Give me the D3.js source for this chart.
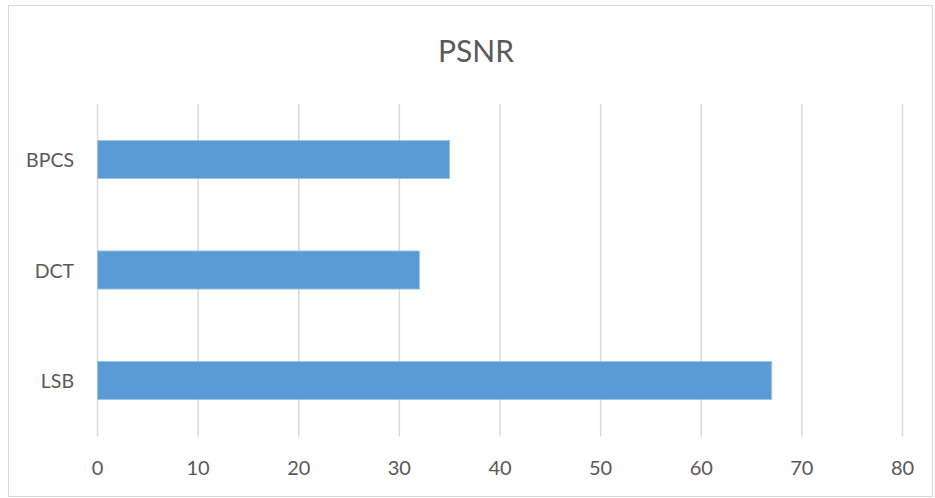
<!DOCTYPE html>
<html><head><meta charset="utf-8">
<script src="https://cdn.jsdelivr.net/npm/d3@7"></script>
<style>body{margin:0;background:#fff;}</style>
</head><body>
<svg id="c" width="935" height="498"></svg>
<script>
const categories = ["BPCS", "DCT", "LSB"];
const values = [35, 32, 67];
const tickValues = [0, 10, 20, 30, 40, 50, 60, 70, 80];
const title = "PSNR";

const svg = d3.select("#c");
const font = "Lato, 'Open Sans', sans-serif";
svg.append("rect").attr("x", 8.5).attr("y", 5.5).attr("width", 924).attr("height", 491)
  .attr("fill", "#fff").attr("stroke", "#d9d9d9").attr("stroke-width", 1);

const x = d3.scaleLinear().domain([0, 80]).range([97.5, 902.5]);
const y = d3.scaleBand().domain(categories).range([104, 436]).paddingInner(0.655).paddingOuter(0.33);

svg.append("g").selectAll("line").data(tickValues).join("line")
  .attr("x1", d => x(d)).attr("x2", d => x(d)).attr("y1", 104).attr("y2", 436.5)
  .attr("stroke", "#d9d9d9").attr("stroke-width", 1.5);

svg.append("g").selectAll("rect").data(categories).join("rect")
  .attr("x", x(0)).attr("y", d => y(d))
  .attr("width", (d, i) => x(values[i]) - x(0)).attr("height", y.bandwidth())
  .attr("fill", "#5b9bd5").attr("stroke", "#9dc3e6").attr("stroke-width", 0.8);

svg.append("g").selectAll("text").data(tickValues).join("text")
  .attr("x", d => x(d)).attr("y", 474.5).attr("text-anchor", "middle")
  .attr("font-family", font).attr("font-size", 20).attr("fill", "#595959").text(d => d);

svg.append("g").selectAll("text").data(categories).join("text")
  .attr("x", 74).attr("y", d => y(d) + y.bandwidth() / 2 + 7.5).attr("text-anchor", "end")
  .attr("font-family", font).attr("font-size", 19.5).attr("fill", "#595959").text(d => d);

svg.append("text").attr("x", 476).attr("y", 62).attr("text-anchor", "middle")
  .attr("font-family", font).attr("font-size", 30).attr("fill", "#595959").text(title);
</script>
</body></html>
